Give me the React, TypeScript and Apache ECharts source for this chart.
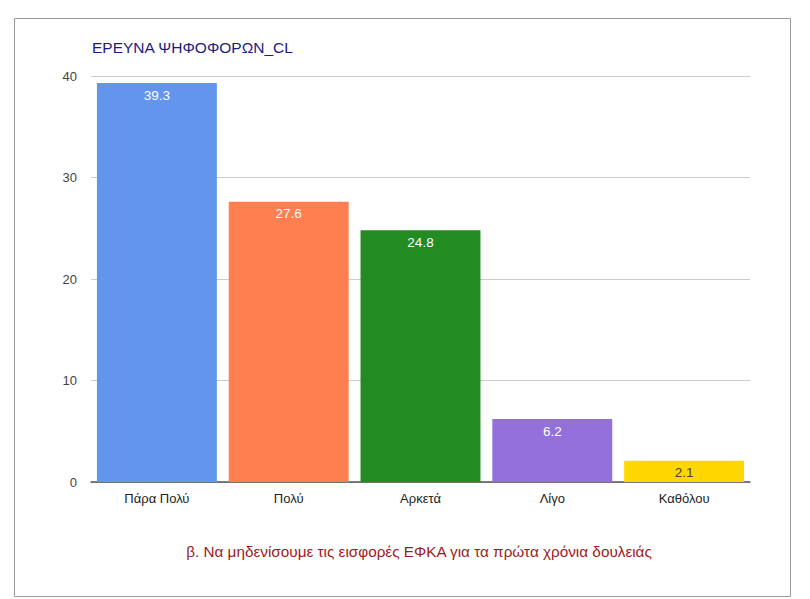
import React, { useEffect, useRef } from "react";
import * as echarts from "echarts";

const categories = ["Πάρα Πολύ", "Πολύ", "Αρκετά", "Λίγο", "Καθόλου"];
const values = [39.3, 27.6, 24.8, 6.2, 2.1];
const barColors = ["#6495ED", "#FF7F50", "#228B22", "#9370DB", "#FFD700"];
const labelColors = ["#ffffff", "#ffffff", "#ffffff", "#ffffff", "#444444"];
const titleText = "ΕΡΕΥΝΑ ΨΗΦΟΦΟΡΩΝ_CL";
const captionText = "β. Να μηδενίσουμε τις εισφορές ΕΦΚΑ για τα πρώτα χρόνια δουλειάς";

export default function App() {
  const ref = useRef<HTMLDivElement>(null);
  useEffect(() => {
    if (!ref.current) return;
    const chart = echarts.init(ref.current, null, { renderer: "svg" });
    const font = "'Liberation Sans', Arial, sans-serif";
    chart.setOption({
      animation: false,
      backgroundColor: "#ffffff",
      textStyle: { fontFamily: font },
      title: {
        text: titleText,
        left: 87,
        top: 34,
        textStyle: { color: "#1c1c80", fontSize: 15.5, fontWeight: "normal", fontFamily: font },
      },
      graphic: [
        {
          type: "rect",
          shape: { x: 14.5, y: 18.5, width: 776, height: 578 },
          style: { fill: "none", stroke: "#9a9a9a", lineWidth: 1 },
          silent: true,
        },
        {
          type: "text",
          x: 419,
          y: 551,
          style: {
            text: captionText,
            fill: "#9e1b22",
            fontSize: 15.3,
            fontFamily: font,
            align: "center",
            verticalAlign: "middle",
          },
        },
      ],
      grid: { left: 91, right: 60, top: 76, bottom: 117 },
      xAxis: {
        type: "category",
        data: categories,
        axisLine: { lineStyle: { color: "#555555", width: 1.5 } },
        axisTick: { show: false },
        axisLabel: { color: "#222222", fontSize: 13, margin: 10, fontFamily: font },
      },
      yAxis: {
        type: "value",
        min: 0,
        max: 40,
        interval: 10,
        axisLine: { show: false },
        axisTick: { show: false },
        axisLabel: { color: "#444444", fontSize: 13, margin: 14, fontFamily: font },
        splitLine: { lineStyle: { color: "#cccccc", width: 1 } },
      },
      series: [
        {
          type: "bar",
          barCategoryGap: "9%",
          data: values.map((v, i) => ({
            value: v,
            itemStyle: { color: barColors[i] },
            label: { color: labelColors[i] },
          })),
          label: {
            show: true,
            position: "insideTop",
            distance: 5,
            fontSize: 13.5,
            fontFamily: font,
          },
        },
      ],
    });
    return () => chart.dispose();
  }, []);
  return (
    <div
      ref={ref}
      style={{ position: "fixed", left: 0, top: 0, width: 810, height: 599 }}
    />
  );
}
